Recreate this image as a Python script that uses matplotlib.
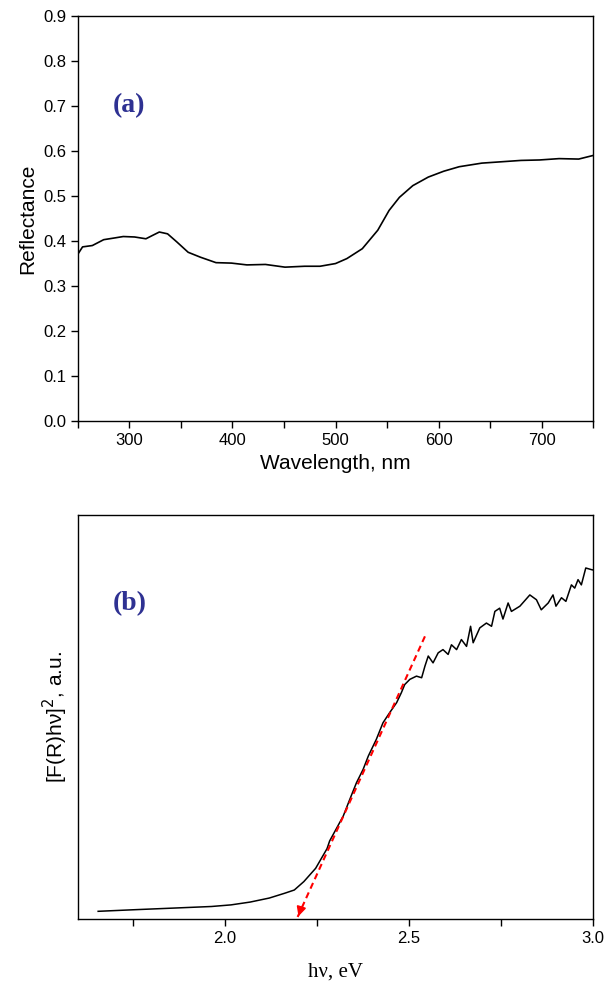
import matplotlib.pyplot as plt
from matplotlib.ticker import MultipleLocator
import numpy as np

# (a) diffuse reflectance spectrum
wavelength = [250, 254.5, 264, 275, 286, 294, 305, 316, 322, 329, 337, 346, 357, 369,
              384, 399, 414, 432, 451, 470, 485, 500, 511, 526, 541, 552, 562, 575,
              590, 605, 620, 642, 661, 680, 698, 717, 736, 750]
reflectance = [0.371, 0.387, 0.390, 0.403, 0.407, 0.410, 0.409, 0.405, 0.412, 0.420,
               0.416, 0.398, 0.375, 0.364, 0.352, 0.351, 0.347, 0.348, 0.342, 0.344,
               0.344, 0.350, 0.361, 0.383, 0.424, 0.468, 0.497, 0.523, 0.542, 0.555,
               0.565, 0.573, 0.576, 0.579, 0.580, 0.583, 0.582, 0.590]

# (b) Kubelka-Munk plot
energy = [1.655, 1.754, 1.859, 1.963, 2.016, 2.068, 2.120, 2.162, 2.188, 2.214, 2.246,
          2.277, 2.284, 2.321, 2.339, 2.357, 2.375, 2.389, 2.411, 2.429, 2.447, 2.466,
          2.479, 2.488, 2.502, 2.520, 2.534, 2.543, 2.552, 2.565, 2.579, 2.592, 2.606,
          2.615, 2.629, 2.642, 2.656, 2.667, 2.674, 2.692, 2.710, 2.724, 2.733, 2.746,
          2.755, 2.769, 2.778, 2.801, 2.828, 2.846, 2.859, 2.878, 2.891, 2.899, 2.914,
          2.926, 2.941, 2.950, 2.959, 2.968, 2.980, 2.995, 3.0]
kubelka = [0.014, 0.018, 0.022, 0.026, 0.030, 0.037, 0.047, 0.059, 0.067, 0.088, 0.121,
           0.170, 0.189, 0.251, 0.293, 0.334, 0.367, 0.400, 0.442, 0.483, 0.508, 0.533,
           0.558, 0.578, 0.591, 0.599, 0.595, 0.624, 0.649, 0.632, 0.657, 0.665, 0.653,
           0.677, 0.665, 0.690, 0.673, 0.723, 0.682, 0.719, 0.731, 0.723, 0.760, 0.768,
           0.741, 0.781, 0.760, 0.773, 0.801, 0.789, 0.764, 0.781, 0.801, 0.773, 0.794,
           0.785, 0.826, 0.818, 0.839, 0.826, 0.868, 0.864, 0.863]

# linear fit extrapolated to the band gap
fit_x = [2.543, 2.197]
fit_y = [0.698, 0.0]

label_color = '#2E3192'

fig = plt.figure(figsize=(6.04, 9.91), dpi=100)
ax1 = fig.add_axes([0.129, 0.575, 0.853, 0.409])
ax2 = fig.add_axes([0.129, 0.0727, 0.853, 0.4077])

for ax in (ax1, ax2):
    for sp in ax.spines.values():
        sp.set_linewidth(1.0)
    ax.tick_params(which='both', direction='out', top=False, right=False,
                   labelsize=12, width=1.0, length=5)

ax1.plot(wavelength, reflectance, color='black', lw=1.2)
ax1.set_xlim(250, 750)
ax1.set_ylim(0, 0.9)
ax1.xaxis.set_major_locator(MultipleLocator(100))
ax1.xaxis.set_minor_locator(MultipleLocator(50))
ax1.yaxis.set_major_locator(MultipleLocator(0.1))
ax1.set_xlabel('Wavelength, nm', fontsize=15, family='Liberation Sans')
ax1.set_ylabel('Reflectance', fontsize=15, family='Liberation Sans')
for lab in ax1.get_xticklabels() + ax1.get_yticklabels():
    lab.set_family('Liberation Sans')
ax1.text(300, 0.70, '(a)', fontsize=20, fontweight='bold', color=label_color,
         family='Liberation Serif', ha='center', va='center')

ax2.plot(energy, kubelka, color='black', lw=1.1)
ax2.plot(fit_x, fit_y, color='red', lw=1.5, ls=(0, (3, 2)))
ax2.annotate('', xy=(fit_x[1], fit_y[1] - 0.005),
             xytext=(fit_x[1] + 0.012, fit_y[1] + 0.03),
             arrowprops=dict(arrowstyle='-|>', color='red', lw=1.2,
                             mutation_scale=14))
ax2.set_xlim(1.6, 3.0)
ax2.set_ylim(-0.005, 1.0)
ax2.xaxis.set_major_locator(MultipleLocator(0.5))
ax2.xaxis.set_minor_locator(MultipleLocator(0.25))
ax2.set_yticks([])
ax2.xaxis.set_major_formatter(plt.FuncFormatter(lambda v, p: f'{v:.1f}'))
for lab in ax2.get_xticklabels():
    lab.set_family('Liberation Sans')
ax2.set_xlabel('h\u03bd, eV', fontsize=15, family='Liberation Serif', labelpad=12)
ax2.set_ylabel('[F(R)h\u03bd]$^2$, a.u.', fontsize=15, family='Liberation Sans',
               labelpad=6)
ax2.text(1.74, 0.78, '(b)', fontsize=20, fontweight='bold', color=label_color,
         family='Liberation Serif', ha='center', va='center')

fig.savefig('out.png', dpi=100)
